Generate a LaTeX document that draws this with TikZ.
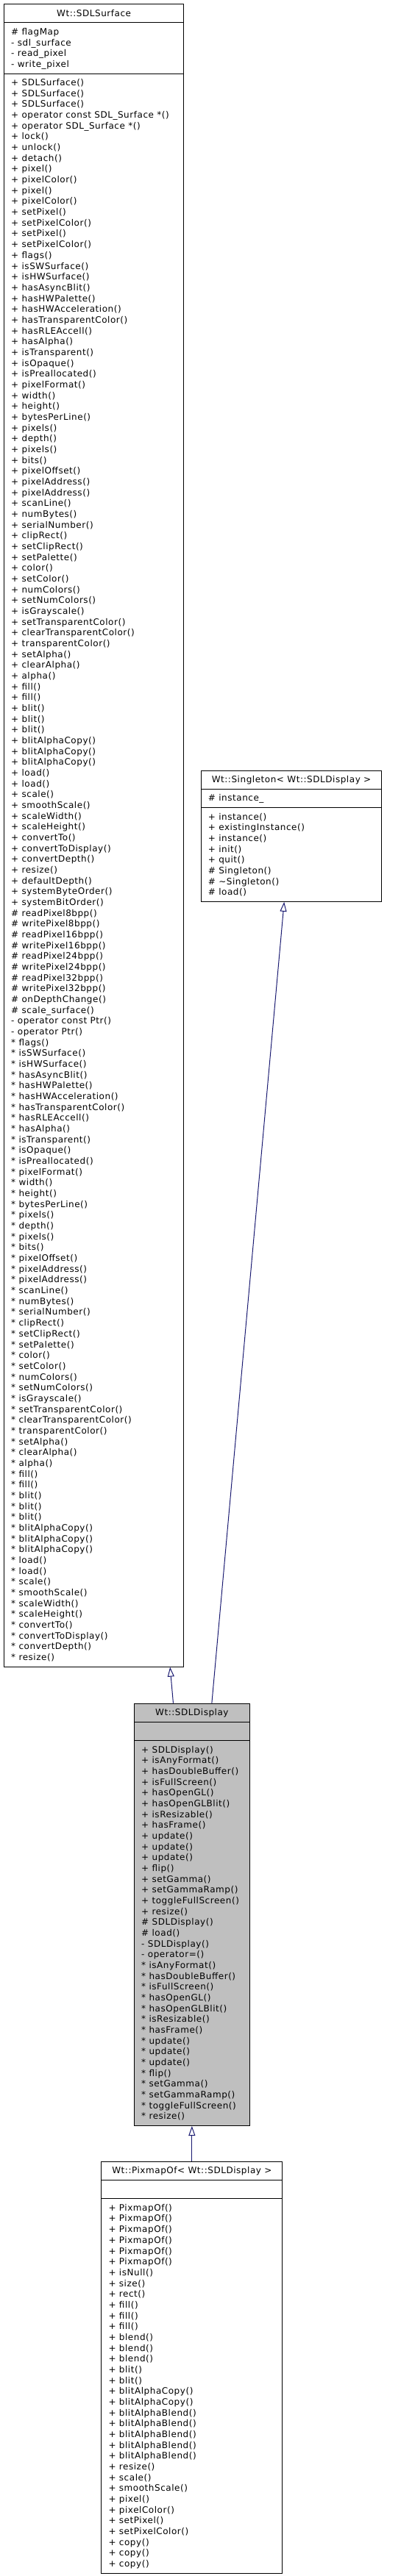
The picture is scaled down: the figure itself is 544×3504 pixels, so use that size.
\documentclass[tikz,border=0pt]{standalone}
\usepackage{fontspec}
\setmainfont{DejaVu Sans}[LetterSpace=4.5]
\usepackage{xcolor}
\usepackage{tikz}
\usetikzlibrary{positioning, shapes.multipart, arrows.meta}

\definecolor{edgeblue}{HTML}{191970}
\definecolor{boxgray}{HTML}{BFBFBF}
\newcommand{\umlstrut}{\rule[-3.47pt]{0pt}{14.67pt}}
\newcommand{\umlfont}{\fontsize{12}{14.67}\selectfont
    \setbox\strutbox\hbox{\vrule height 11.2pt depth 3.47pt width 0pt}}

\begin{document}
\begin{tikzpicture}[
    x=1pt, y=-1pt,
    umlclass/.style={rectangle split, rectangle split parts=3, draw=black, line width=1pt, fill=white,
        rectangle split part align={center,left,left},
        inner xsep=9.7pt, inner ysep=4.75pt, anchor=north west, font=\umlfont},
    current/.style={umlclass, fill=boxgray},
    inherit/.style={draw=edgeblue, line width=1pt, -{Triangle[open, length=13pt, width=9pt]}}
]
    \useasboundingbox (0,0) rectangle (544,3504);

    % Classes
    \node[umlclass, minimum width=244.3pt] (surface) at (5,5.3) {\umlstrut Wt::SDLSurface
    \nodepart{two}\begin{tabular}{@{}l@{}}\# flagMap\\- sdl\_surface\\- read\_pixel\\- write\_pixel\end{tabular}
    \nodepart{three}\begin{tabular}{@{}l@{}}+ SDLSurface()\\+ SDLSurface()\\+ SDLSurface()\\
    + operator const SDL\_Surface *()\\+ operator SDL\_Surface *()\\+ lock()\\+ unlock()\\
    + detach()\\+ pixel()\\+ pixelColor()\\+ pixel()\\+ pixelColor()\\+ setPixel()\\
    + setPixelColor()\\+ setPixel()\\+ setPixelColor()\\+ flags()\\+ isSWSurface()\\
    + isHWSurface()\\+ hasAsyncBlit()\\+ hasHWPalette()\\+ hasHWAcceleration()\\
    + hasTransparentColor()\\+ hasRLEAccell()\\+ hasAlpha()\\+ isTransparent()\\
    + isOpaque()\\+ isPreallocated()\\+ pixelFormat()\\+ width()\\+ height()\\
    + bytesPerLine()\\+ pixels()\\+ depth()\\+ pixels()\\+ bits()\\+ pixelOffset()\\
    + pixelAddress()\\+ pixelAddress()\\+ scanLine()\\+ numBytes()\\+ serialNumber()\\
    + clipRect()\\+ setClipRect()\\+ setPalette()\\+ color()\\+ setColor()\\
    + numColors()\\+ setNumColors()\\+ isGrayscale()\\+ setTransparentColor()\\
    + clearTransparentColor()\\+ transparentColor()\\+ setAlpha()\\+ clearAlpha()\\
    + alpha()\\+ fill()\\+ fill()\\+ blit()\\+ blit()\\+ blit()\\+ blitAlphaCopy()\\
    + blitAlphaCopy()\\+ blitAlphaCopy()\\+ load()\\+ load()\\+ scale()\\
    + smoothScale()\\+ scaleWidth()\\+ scaleHeight()\\+ convertTo()\\
    + convertToDisplay()\\+ convertDepth()\\+ resize()\\+ defaultDepth()\\
    + systemByteOrder()\\+ systemBitOrder()\\\# readPixel8bpp()\\\# writePixel8bpp()\\
    \# readPixel16bpp()\\\# writePixel16bpp()\\\# readPixel24bpp()\\\# writePixel24bpp()\\
    \# readPixel32bpp()\\\# writePixel32bpp()\\\# onDepthChange()\\\# scale\_surface()\\
    - operator const Ptr()\\- operator Ptr()\\{*} flags()\\{*} isSWSurface()\\{*} isHWSurface()\\
    {*} hasAsyncBlit()\\{*} hasHWPalette()\\{*} hasHWAcceleration()\\{*} hasTransparentColor()\\
    {*} hasRLEAccell()\\{*} hasAlpha()\\{*} isTransparent()\\{*} isOpaque()\\{*} isPreallocated()\\
    {*} pixelFormat()\\{*} width()\\{*} height()\\{*} bytesPerLine()\\{*} pixels()\\{*} depth()\\
    {*} pixels()\\{*} bits()\\{*} pixelOffset()\\{*} pixelAddress()\\{*} pixelAddress()\\
    {*} scanLine()\\{*} numBytes()\\{*} serialNumber()\\{*} clipRect()\\{*} setClipRect()\\
    {*} setPalette()\\{*} color()\\{*} setColor()\\{*} numColors()\\{*} setNumColors()\\
    {*} isGrayscale()\\{*} setTransparentColor()\\{*} clearTransparentColor()\\
    {*} transparentColor()\\{*} setAlpha()\\{*} clearAlpha()\\{*} alpha()\\{*} fill()\\{*} fill()\\
    {*} blit()\\{*} blit()\\{*} blit()\\{*} blitAlphaCopy()\\{*} blitAlphaCopy()\\
    {*} blitAlphaCopy()\\{*} load()\\{*} load()\\{*} scale()\\{*} smoothScale()\\{*} scaleWidth()\\
    {*} scaleHeight()\\{*} convertTo()\\{*} convertToDisplay()\\{*} convertDepth()\\{*} resize()\end{tabular}};

    \node[umlclass, minimum width=245.6pt] (singleton) at (272.7,1047.7) {\umlstrut Wt::Singleton< Wt::SDLDisplay >
    \nodepart{two}\umlstrut\# instance\_
    \nodepart{three}\begin{tabular}{@{}l@{}}+ instance()\\+ existingInstance()\\+ instance()\\+ init()\\
    + quit()\\\# Singleton()\\\# \textasciitilde Singleton()\\\# load()\end{tabular}};

    \node[current, minimum width=156.7pt] (display) at (182,2316.7) {\umlstrut Wt::SDLDisplay
    \nodepart{two}\umlstrut
    \nodepart{three}\begin{tabular}{@{}l@{}}+ SDLDisplay()\\+ isAnyFormat()\\+ hasDoubleBuffer()\\
    + isFullScreen()\\+ hasOpenGL()\\+ hasOpenGLBlit()\\+ isResizable()\\+ hasFrame()\\
    + update()\\+ update()\\+ update()\\+ flip()\\+ setGamma()\\+ setGammaRamp()\\
    + toggleFullScreen()\\+ resize()\\\# SDLDisplay()\\\# load()\\- SDLDisplay()\\
    - operator=()\\{*} isAnyFormat()\\{*} hasDoubleBuffer()\\{*} isFullScreen()\\
    {*} hasOpenGL()\\{*} hasOpenGLBlit()\\{*} isResizable()\\{*} hasFrame()\\{*} update()\\
    {*} update()\\{*} update()\\{*} flip()\\{*} setGamma()\\{*} setGammaRamp()\\
    {*} toggleFullScreen()\\{*} resize()\end{tabular}};

    \node[umlclass, minimum width=246pt, below=48pt of display] (pixmap) {\umlstrut Wt::PixmapOf< Wt::SDLDisplay >
    \nodepart{two}\umlstrut
    \nodepart{three}\begin{tabular}{@{}l@{}}+ PixmapOf()\\+ PixmapOf()\\+ PixmapOf()\\+ PixmapOf()\\
    + PixmapOf()\\+ PixmapOf()\\+ isNull()\\+ size()\\+ rect()\\+ fill()\\+ fill()\\
    + fill()\\+ blend()\\+ blend()\\+ blend()\\+ blit()\\+ blit()\\+ blitAlphaCopy()\\
    + blitAlphaCopy()\\+ blitAlphaBlend()\\+ blitAlphaBlend()\\+ blitAlphaBlend()\\
    + blitAlphaBlend()\\+ blitAlphaBlend()\\+ resize()\\+ scale()\\+ smoothScale()\\
    + pixel()\\+ pixelColor()\\+ setPixel()\\+ setPixelColor()\\+ copy()\\+ copy()\\
    + copy()\end{tabular}};

    % Inheritance
    \draw[inherit] ([xshift=-25.4pt]display.north) -- ([xshift=103.5pt]surface.south);
    \draw[inherit] ([xshift=27pt]display.north) -- ([xshift=-9.8pt]singleton.south);
    \draw[inherit] (pixmap.north) -- (display.south);

\end{tikzpicture}
\end{document}
